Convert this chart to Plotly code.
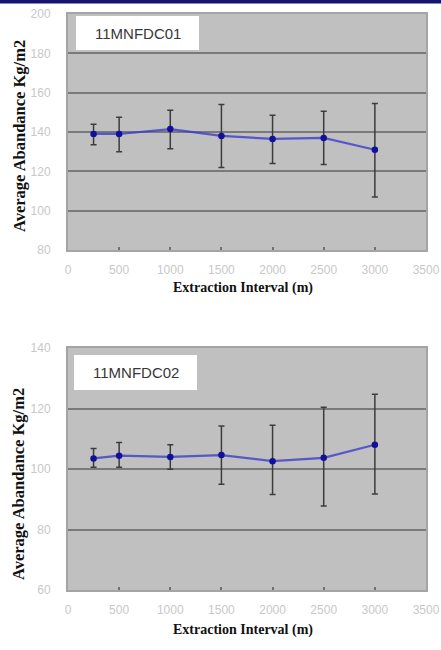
import plotly.graph_objects as go

# ---- data ----
intervals = [250, 500, 1000, 1500, 2000, 2500, 3000]

site1_name = "11MNFDC01"
site1_mean = [139, 139, 141.5, 138, 136.5, 137, 131]
site1_upper = [144, 147.5, 151, 154, 148.5, 150.5, 154.5]
site1_lower = [133.5, 130, 131.5, 122, 124, 123.5, 107]

site2_name = "11MNFDC02"
site2_mean = [103.5, 104.4, 104, 104.6, 102.6, 103.7, 108]
site2_upper = [106.8, 108.8, 108, 114.2, 114.5, 120.4, 124.7]
site2_lower = [100.6, 100.6, 99.9, 95, 91.6, 87.8, 91.7]

x_ticks = [0, 500, 1000, 1500, 2000, 2500, 3000, 3500]
y1_ticks = [80, 100, 120, 140, 160, 180, 200]
y2_ticks = [60, 80, 100, 120, 140]

x_title = "Extraction Interval (m)"
y_title = "Average Abandance Kg/m2"

W, H = 441, 650


def py(p):
    return 1 - p / H


def px(p):
    return p / W


fig = go.Figure()

for i, (m, up, lo) in enumerate([(site1_mean, site1_upper, site1_lower),
                                 (site2_mean, site2_upper, site2_lower)]):
    fig.add_trace(go.Scatter(
        x=intervals, y=m,
        xaxis="x" if i == 0 else "x2",
        yaxis="y" if i == 0 else "y2",
        mode="lines+markers",
        line=dict(color="rgba(60,60,200,0.8)", width=2.2),
        marker=dict(color="#10109a", size=6.5),
        error_y=dict(type="data", symmetric=False,
                     array=[u - v for u, v in zip(up, m)],
                     arrayminus=[v - l for v, l in zip(m, lo)],
                     color="#3c3c3c", thickness=1.5, width=3),
        showlegend=False,
    ))

xdom = [px(68), px(426)]
common_x = dict(range=[0, 3500], tickvals=x_ticks, showgrid=False, automargin=False,
                zeroline=False, showline=True, linecolor="#a4a4a4", linewidth=2,
                mirror=True, ticks="inside", ticklen=3, tickcolor="#707070",
                tickwidth=2, ticklabelstandoff=8,
                tickfont=dict(family="Liberation Sans", size=12, color="#c8c8c8"))
common_y = dict(showgrid=True, gridcolor="#7a7a7a", gridwidth=2, automargin=False,
                zeroline=False, showline=True, linecolor="#a4a4a4", linewidth=2,
                mirror=True, ticks="", ticklabelstandoff=13,
                tickfont=dict(family="Liberation Sans", size=12, color="#c8c8c8"))

fig.update_layout(
    width=W, height=H,
    autosize=False,
    margin=dict(l=0, r=0, t=0, b=0, pad=0),
    paper_bgcolor="white",
    plot_bgcolor="#c0c0c0",
    xaxis=dict(domain=xdom, anchor="y", **common_x),
    yaxis=dict(domain=[py(250), py(14)], anchor="x", range=[80, 200],
               tickvals=y1_ticks, **common_y),
    xaxis2=dict(domain=xdom, anchor="y2", **common_x),
    yaxis2=dict(domain=[py(590), py(348)], anchor="x2", range=[60, 140],
                tickvals=y2_ticks, **common_y),
)

# navy band at top
fig.add_shape(type="rect", xref="paper", yref="paper", x0=0, x1=1,
              y0=py(3.5), y1=1, fillcolor="#141470", line=dict(width=0), layer="above")

# label boxes
for name, (x0, x1, y0, y1) in [(site1_name, (76, 199, 16, 50)),
                               (site2_name, (74, 197, 355, 390))]:
    fig.add_shape(type="rect", xref="paper", yref="paper",
                  x0=px(x0), x1=px(x1), y0=py(y1), y1=py(y0),
                  fillcolor="white", line=dict(width=0), layer="above")
    fig.add_annotation(xref="paper", yref="paper", x=px((x0 + x1) / 2),
                       y=py((y0 + y1) / 2), xanchor="center", yanchor="middle",
                       text=name, showarrow=False,
                       font=dict(family="Liberation Sans", size=15, color="#383838"))

# axis titles
for xt_y, yt_y in [(288, 136), (630, 484)]:
    fig.add_annotation(xref="paper", yref="paper", x=px(243), y=py(xt_y),
                       xanchor="center", yanchor="middle",
                       text="<b>" + x_title + "</b>", showarrow=False,
                       font=dict(family="Liberation Serif", size=14, color="#111111"))
    fig.add_annotation(xref="paper", yref="paper", x=px(19), y=py(yt_y),
                       xanchor="center", yanchor="middle",
                       text="<b>" + y_title + "</b>", showarrow=False, textangle=-90,
                       font=dict(family="Liberation Serif", size=16.5, color="#111111"))

fig.write_html("out.html", config={"displayModeBar": False},
               post_script="document.body.style.margin='0';")
